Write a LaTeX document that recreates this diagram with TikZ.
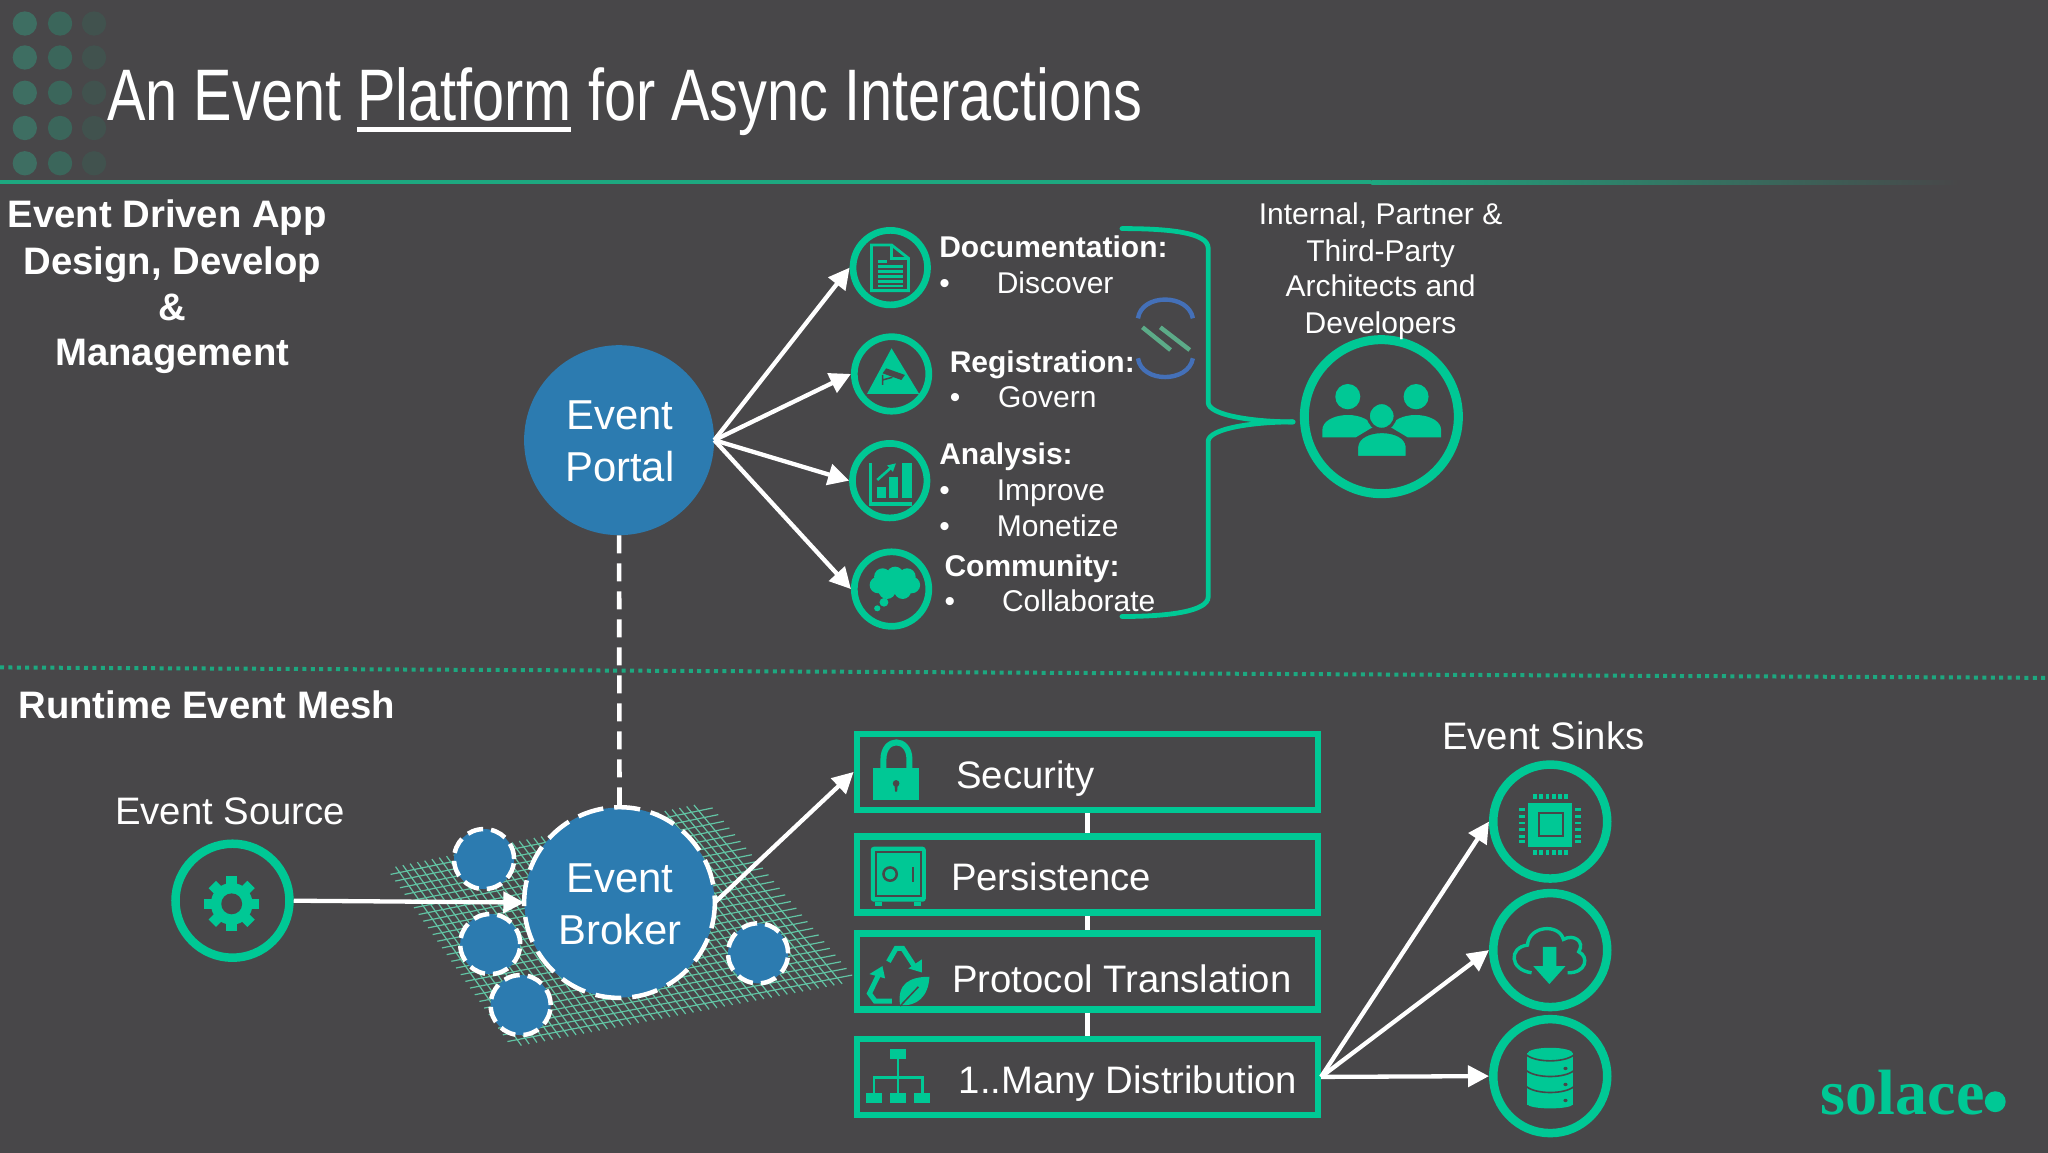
\documentclass[tikz,border=0pt]{standalone}
\usepackage{fontspec}
\usetikzlibrary{arrows.meta,calc}
\setmainfont{Liberation Sans}
\newfontfamily\titlefont{Liberation Sans}[FakeStretch=0.79]
\newfontfamily\logofont{Liberation Serif}
\newcommand{\szT}{\titlefont\fontsize{73pt}{80pt}\selectfont}
\newcommand{\szH}{\bfseries\fontsize{38.3pt}{44pt}\selectfont}
\newcommand{\szM}{\fontsize{38.3pt}{44pt}\selectfont}
\newcommand{\szS}{\fontsize{30pt}{36pt}\selectfont}
\newcommand{\szSb}{\bfseries\fontsize{30pt}{36pt}\selectfont}
\newcommand{\szL}{\fontsize{41.8pt}{52pt}\selectfont}
\definecolor{bgc}{HTML}{484749}
\definecolor{grn}{HTML}{00C895}
\definecolor{blu}{HTML}{2C7BB0}
\definecolor{meshc}{HTML}{62C4A4}
\definecolor{rulec}{HTML}{1DA880}
\tikzset{
  txt/.style={text=white,inner sep=0pt,anchor=base west},
  ctxt/.style={text=white,inner sep=0pt,anchor=base},
  ring/.style={circle,draw=grn,fill=none,inner sep=0pt},
  rs/.style={ring,line width=6.7pt,minimum size=74.5pt},
  rm/.style={ring,line width=8.5pt,minimum size=114pt},
  rl/.style={ring,line width=9pt,minimum size=154pt},
  hub/.style={circle,fill=blu,inner sep=0pt,minimum size=190pt},
  dashring/.style={draw=white,line width=4.5pt,dash pattern=on 26pt off 11pt},
  mini/.style={circle,fill=blu,draw=white,line width=4.5pt,dash pattern=on 16pt off 8pt,inner sep=0pt,minimum size=60pt},
  box/.style={rectangle,draw=grn,line width=6.4pt,fill=none,inner sep=0pt,minimum width=461pt,minimum height=76pt},
  arr/.style={draw=white,line width=4.3pt,-{Triangle[length=21pt,width=21pt]}},
  link/.style={draw=white,line width=4.6pt},
  ic/.style={fill=grn,draw=none},
  icl/.style={draw=grn,line width=2.8pt,fill=none},
  cut/.style={fill=bgc,draw=none},
}
\begin{document}
\begin{tikzpicture}[x=1.30612pt,y=-1.30612pt]
\useasboundingbox (0,0) rectangle (1568,882);
\fill[bgc] (-3,-3) rectangle (1571,885);
% corner dots
\foreach \cx/\col in {19/3E6E62,46/3B665B,72/41524E}{
  \definecolor{dc}{HTML}{\col}
  \foreach \cy in {18,44,71,98,125}{ \fill[dc] (\cx,\cy) circle[radius=9.3]; }
}
% rules
\fill[rulec] (0,138) rectangle (1050,141);
\shade[left color=rulec,right color=bgc] (1050,138) rectangle (1500,141);
\draw[rulec,line width=4pt,dash pattern=on 4pt off 4.4pt] (0,511) -- (1568,519);
% title
\node[txt] (title) at (82,92) {\szT An Event Platform for Async Interactions};
\fill[white] (273,97) rectangle (437,101);
% headers
\node[ctxt] (h1) at (128,174) {\szH Event Driven App};
\node[ctxt] (h2) at (132,210) {\szH Design, Develop};
\node[ctxt] (h3) at (132,245) {\szH \&};
\node[ctxt] (h4) at (132,280) {\szH Management};
\node[txt] (h5) at (14,550) {\szH Runtime Event Mesh};
\node[txt] (h6) at (88,631) {\szM Event Source};
\node[txt] (h7) at (1104,574) {\szM Event Sinks};
% mesh
\coordinate (mA) at (306,668);
\coordinate (mB) at (538.7,620);
\coordinate (mC) at (645,748);
\coordinate (mD) at (396,796);
\begin{scope}[draw=meshc,line width=1.2pt]
\foreach \t in {0,0.04,...,1.01}{
  \draw ($($(mA)!\t!(mD)$)!-.03!($(mB)!\t!(mC)$)$) -- ($($(mB)!\t!(mC)$)!-.03!($(mA)!\t!(mD)$)$);
}
\foreach \t in {0,0.024,...,1.005}{
  \draw ($($(mA)!\t!(mB)$)!-.035!($(mD)!\t!(mC)$)$) -- ($($(mD)!\t!(mC)$)!-.035!($(mA)!\t!(mB)$)$);
}
\end{scope}
% hubs
\node[hub] (portal) at (474,337) {};
\node[hub] (broker) at (474.3,691) {};
\node[mini] (m1) at (370.6,657.7) {};
\node[mini] (m2) at (375.3,722.8) {};
\node[mini] (m3) at (398.6,769.5) {};
\node[mini] (m4) at (580.4,729.9) {};
\draw[dashring] (broker.center) circle[radius=73];
\node[ctxt] (pt1) at (474.5,329) {\szL Event};
\node[ctxt] (pt2) at (474.5,369) {\szL Portal};
\node[ctxt] (bt1) at (474.5,683) {\szL Event};
\node[ctxt] (bt2) at (474.5,723) {\szL Broker};
% rings
\node[rs] (doc) at (681.6,204.9) {};
\node[rs] (reg) at (682.6,286.3) {};
\node[rs] (ana) at (681.2,368) {};
\node[rs] (com) at (682.6,451) {};
\node[rl] (usr) at (1057.6,319) {};
\node[rm] (src) at (178,689.6) {};
\node[rm] (sk1) at (1186.9,629) {};
\node[rm] (sk2) at (1186.9,727.4) {};
\node[rm] (sk3) at (1186.9,823.9) {};
% boxes
\node[box] (b1) at (832.5,591) {};
\node[box] (b2) at (832.5,669.5) {};
\node[box] (b3) at (832.5,743.7) {};
\node[box] (b4) at (832.5,824.5) {};
\node[txt] (bx1) at (732,604) {\szM Security};
\node[txt] (bx2) at (728,682) {\szM Persistence};
\node[txt] (bx3) at (729,760) {\szM Protocol Translation};
\node[txt] (bx4) at (734,837) {\szM 1..Many Distribution};
% connectors
\draw[arr] (portal.east) -- (doc.west);
\draw[arr] (portal.east) -- (reg.west);
\draw[arr] (portal.east) -- (ana.west);
\draw[arr] (portal.east) -- (com.west);
\draw[draw=white,line width=4.6pt,dash pattern=on 18pt off 10pt] (portal.south) -- (broker.north);
\draw[arr] (src.east) -- (broker.west);
\draw[arr] (broker.east) -- (b1.west);
\draw[arr] (b4.east) -- (sk1.west);
\draw[arr] (b4.east) -- (sk2.west);
\draw[arr] (b4.east) -- (sk3.west);
\draw[link] (b1.south) -- (b2.north);
\draw[link] (b2.south) -- (b3.north);
\draw[link] (b3.south) -- (b4.north);
% side text
\node[txt] (d1) at (719,197) {\szSb Documentation:};
\node[txt] (d2) at (719,225) {\szS •};
\node[txt] (d3) at (763,225) {\szS Discover};
\node[txt] (r1) at (727,285) {\szSb Registration:};
\node[txt] (r2) at (727,312) {\szS •};
\node[txt] (r3) at (764,312) {\szS Govern};
\node[txt] (a1) at (719,356) {\szSb Analysis:};
\node[txt] (a2) at (719,383) {\szS •};
\node[txt] (a3) at (763,383) {\szS Improve};
\node[txt] (a4) at (719,411) {\szS •};
\node[txt] (a5) at (763,411) {\szS Monetize};
\node[txt] (c1) at (723,441) {\szSb Community:};
\node[txt] (c2) at (723,468) {\szS •};
\node[txt] (c3) at (767,468) {\szS Collaborate};
\node[ctxt] (u1) at (1057,172) {\szS Internal, Partner \&};
\node[ctxt] (u2) at (1057,200) {\szS Third-Party};
\node[ctxt] (u3) at (1057,227) {\szS Architects and};
\node[ctxt] (u4) at (1057,255) {\szS Developers};
% brace
\draw[grn,line width=4.8pt,line cap=round] (859,175) .. controls (895,175) and (925,178) .. (925,190)
  -- (925,308) .. controls (925,318) and (960,323) .. (990,323);
\draw[grn,line width=4.8pt,line cap=round] (990,323) .. controls (960,323) and (925,328) .. (925,338)
  -- (925,457) .. controls (925,468) and (895,472) .. (859,472);
% zoom-2 icons
\begin{scope}[shift={(627.9,153.1)},xscale=.3418,yscale=.2552]
  % doc
  \draw[icl] (115,135) -- (160,135) -- (198,175) -- (198,272) -- (115,272) -- cycle;
  \draw[icl] (160,135) -- (160,175) -- (198,175);
  \draw[icl] (130,185) -- (150,185);
  \foreach \yy in {200,215,230,245,258}{ \draw[icl] (130,\yy) -- (185,\yy); }
  % reg
  \fill[ic] (160,445) -- (105,582) -- (222,582) -- cycle;
  \fill[cut] (148,505) -- (190,525) -- (182,540) -- (140,520) -- cycle;
  \draw[bgc,line width=1.5pt] (140,555) -- (140,525) (140,540) -- (162,532);
  % analysis
  \draw[grn,line width=3.2pt] (113,790) -- (113,912) -- (205,912);
  \fill[ic] (127,862) rectangle (148,895);
  \fill[ic] (155,830) rectangle (175,895);
  \fill[ic] (183,790) rectangle (205,895);
  \draw[grn,line width=2.6pt,-{Triangle[length=8pt,width=8pt]}] (128,840) -- (170,790);
  % community
  \foreach \xx/\yy in {168/1125,140/1130,195/1130,130/1155,205/1155,150/1172,185/1172,168/1150}{
    \fill[ic] (\xx,\yy) ellipse[x radius=19,y radius=25];
  }
  \fill[ic] (143,1207) ellipse[x radius=10,y radius=13];
  \fill[ic] (128,1225) ellipse[x radius=7,y radius=9];
  % users
  \fill[ic] (1182,590) ellipse[x radius=28,y radius=38];
  \fill[ic] (1335,590) ellipse[x radius=28,y radius=38];
  \fill[ic] (1125,712) -- (1125,690) .. controls (1125,640) and (1215,625) .. (1240,680) -- (1200,712) -- cycle;
  \fill[ic] (1391,712) -- (1391,690) .. controls (1391,640) and (1301,625) .. (1276,680) -- (1316,712) -- cycle;
  \draw[fill=grn,draw=bgc,line width=3pt] (1258,648) ellipse[x radius=30,y radius=40];
  \draw[fill=grn,draw=bgc,line width=3pt] (1202,772) -- (1202,740) .. controls (1205,680) and (1312,680) .. (1315,740) -- (1315,772) -- cycle;
  % faint blue mark
  \draw[draw={rgb,255:red,68;green,112;blue,184},line width=4.4pt] (712,355) .. controls (720,280) and (825,280) .. (835,355);
  \draw[draw={rgb,255:red,68;green,112;blue,184},line width=4.4pt] (712,475) .. controls (720,550) and (825,550) .. (835,475);
  \draw[draw={rgb,255:red,92;green,171;blue,136},line width=4.4pt] (722,382) -- (785,450) (762,382) -- (828,450);
\end{scope}
% gear
\begin{scope}[shift={(177.4,692)}]
  \foreach \ang in {0,45,...,315}{
    \fill[ic,rotate=\ang] (-4,-21) rectangle (4,0);
  }
  \fill[ic] (0,0) circle[radius=16];
  \fill[cut] (0,0) circle[radius=8];
\end{scope}
% box icons
\begin{scope}[shift={(643.2,551.3)},scale=.2552]
  % lock
  \draw[grn,line width=6pt] (130,150) -- (130,118) .. controls (130,50) and (208,50) .. (208,118) -- (208,150);
  \fill[ic] (100,145) rectangle (238,240);
  \fill[cut] (168,190) circle[radius=10];
  \fill[cut] (163,192) -- (173,192) -- (171,215) -- (165,215) -- cycle;
  % safe
  \fill[ic,rounded corners=3pt] (92,380) rectangle (257,545);
  \fill[ic] (105,545) rectangle (125,557);
  \fill[ic] (222,545) rectangle (243,557);
  \draw[bgc,line width=2pt] (108,397) rectangle (243,527);
  \draw[bgc,line width=2.5pt] (150,462) circle[radius=20];
  \fill[cut] (215,440) rectangle (222,485);
  % recycle
  \draw[grn,line width=5pt] (145,725) -- (168,685) -- (188,685) -- (225,742);
  \fill[ic] (245,757) -- (205,745) -- (245,718) -- cycle;
  \draw[grn,line width=5pt] (155,843) -- (105,843) -- (88,820) -- (115,765);
  \fill[ic] (127,738) -- (88,762) -- (135,775) -- cycle;
  \fill[ic] (180,855) .. controls (170,790) and (210,770) .. (268,770) .. controls (265,830) and (230,860) .. (180,855);
  \draw[bgc,line width=1.5pt] (180,858) -- (235,800);
  % hierarchy
  \fill[ic] (150,987) rectangle (198,1018);
  \draw[grn,line width=2.6pt] (174,1018) -- (174,1120) (102,1118) -- (102,1072) -- (247,1072) -- (247,1118);
  \fill[ic] (78,1118) rectangle (126,1150);
  \fill[ic] (150,1118) rectangle (198,1150);
  \fill[ic] (223,1118) rectangle (271,1150);
\end{scope}
% sink icons
\begin{scope}[shift={(1072,536)},xscale=.3164,yscale=.2552]
  % chip
  \fill[ic] (310,310) rectangle (415,440);
  \draw[bgc,line width=2pt] (335,340) rectangle (393,408);
  \foreach \xx in {322,337,352,367,382,397}{
    \fill[ic] (\xx,283) rectangle (\xx+9,298);
    \fill[ic] (\xx,450) rectangle (\xx+9,465);
  }
  \foreach \yy in {325,345,365,385,405,420}{
    \fill[ic] (288,\yy) rectangle (302,\yy+8);
    \fill[ic] (423,\yy) rectangle (437,\yy+8);
  }
  % cloud
  \draw[grn,line width=3.4pt] (318,818) .. controls (265,810) and (262,742) .. (308,735)
     .. controls (312,675) and (385,670) .. (395,718) .. controls (420,700) and (448,725) .. (432,755)
     .. controls (458,770) and (450,820) .. (405,818);
  \fill[ic] (345,740) -- (378,740) -- (378,798) -- (400,798) -- (361,852) -- (322,798) -- (345,798) -- cycle;
  % database
  \fill[ic] (308,1060) rectangle (418,1215);
  \fill[ic] (363,1060) ellipse[x radius=55,y radius=17];
  \fill[ic] (363,1212) ellipse[x radius=55,y radius=13];
  \draw[bgc,line width=1.6pt] (306,1065) .. controls (330,1088) and (396,1088) .. (420,1065);
  \draw[bgc,line width=1.6pt] (306,1112) .. controls (330,1135) and (396,1135) .. (420,1112);
  \draw[bgc,line width=1.6pt] (306,1160) .. controls (330,1183) and (396,1183) .. (420,1160);
  \fill[cut] (400,1105) ellipse[x radius=5,y radius=5];
  \fill[cut] (400,1153) ellipse[x radius=5,y radius=5];
  \fill[cut] (400,1201) ellipse[x radius=5,y radius=5];
\end{scope}
% logo
\node[txt,text=grn] (logo) at (1394,853) {\logofont\bfseries\fontsize{64pt}{70pt}\selectfont solace};
\fill[grn] (1527.6,843.5) circle[radius=8];
\end{tikzpicture}
\end{document}
